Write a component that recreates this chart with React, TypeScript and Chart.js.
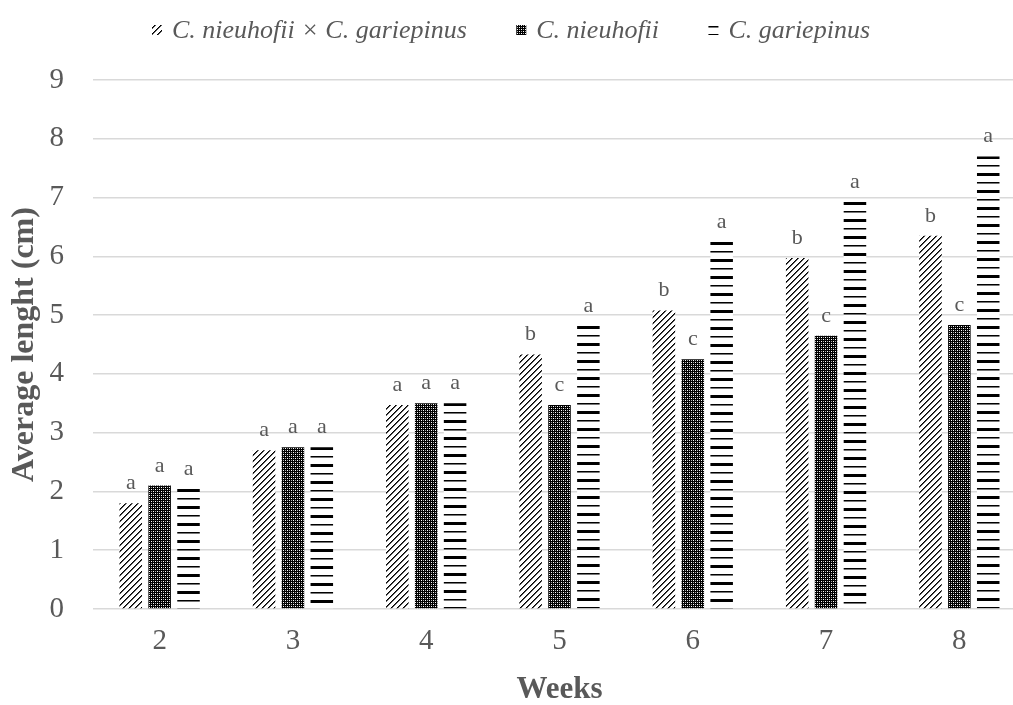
import React, { useEffect, useRef } from "react";
import { Chart, registerables } from "chart.js";

Chart.register(...registerables);

const weeks = ["2", "3", "4", "5", "6", "7", "8"];
const seriesNames = ["C. nieuhofii × C. gariepinus", "C. nieuhofii", "C. gariepinus"];
const hybridValues = [1.8, 2.7, 3.47, 4.33, 5.08, 5.97, 6.35];
const nieuhofiiValues = [2.1, 2.75, 3.5, 3.47, 4.25, 4.65, 4.83];
const gariepinusValues = [2.05, 2.75, 3.5, 4.82, 6.25, 6.93, 7.7];
const hybridLetters = ["a", "a", "a", "b", "b", "b", "b"];
const nieuhofiiLetters = ["a", "a", "a", "c", "c", "c", "c"];
const gariepinusLetters = ["a", "a", "a", "a", "a", "a", "a"];
const yMin = 0;
const yMax = 9;
const yStep = 1;

const TEXT = "#595959";
const SERIF = "'Liberation Serif', 'Times New Roman', serif";
const KINDS = ["diag", "check", "lines"];

function makePattern(kind: string): CanvasPattern {
  const c = document.createElement("canvas");
  const g = c.getContext("2d") as CanvasRenderingContext2D;
  if (kind === "diag") {
    c.width = 6;
    c.height = 6;
    g.fillStyle = "#fff";
    g.fillRect(0, 0, 6, 6);
    for (let i = 0; i < 6; i++) {
      g.fillStyle = "#000";
      g.fillRect(i, 5 - i, 1, 1);
      g.fillStyle = "#555";
      g.fillRect((i + 1) % 6, 5 - i, 1, 1);
    }
  } else if (kind === "check") {
    c.width = 4;
    c.height = 4;
    g.fillStyle = "#000";
    g.fillRect(0, 0, 4, 4);
    g.fillStyle = "#fff";
    g.fillRect(1, 1, 1, 1);
    g.fillRect(3, 3, 1, 1);
    g.fillStyle = "#aaa";
    g.fillRect(1, 3, 1, 1);
    g.fillRect(3, 1, 1, 1);
  } else {
    c.width = 4;
    c.height = 17;
    g.fillStyle = "#fff";
    g.fillRect(0, 0, 4, 17);
    g.fillStyle = "#000";
    g.fillRect(0, 0, 4, 3);
    g.fillRect(0, 9, 4, 1);
    g.fillStyle = "#777";
    g.fillRect(0, 10, 4, 1);
  }
  return g.createPattern(c, "repeat") as CanvasPattern;
}

function barFill(kindIndex: number) {
  const base = makePattern(KINDS[kindIndex]);
  return (ctx: any) => {
    const chart = ctx.chart;
    if (ctx.type !== "data" || !chart || !chart.scales || !chart.scales.y) return base;
    const v = ctx.parsed ? ctx.parsed.y : ctx.raw;
    if (typeof v !== "number") return base;
    const y = Math.round(chart.scales.y.getPixelForValue(v));
    const p = makePattern(KINDS[kindIndex]);
    if (p.setTransform) p.setTransform(new DOMMatrix([1, 0, 0, 1, 0, y]));
    return p;
  };
}

export default function App() {
  const ref = useRef<HTMLCanvasElement | null>(null);

  useEffect(() => {
    const canvas = ref.current;
    if (!canvas) return;
    const legendPatterns = KINDS.map((k) => makePattern(k));
    const letters = [hybridLetters, nieuhofiiLetters, gariepinusLetters];

    const labelPlugin = {
      id: "letters",
      afterDatasetsDraw(chart: any) {
        const ctx = chart.ctx;
        ctx.save();
        ctx.font = `22px ${SERIF}`;
        ctx.fillStyle = TEXT;
        ctx.textAlign = "center";
        ctx.textBaseline = "alphabetic";
        chart.data.datasets.forEach((_: any, i: number) => {
          const meta = chart.getDatasetMeta(i);
          meta.data.forEach((el: any, j: number) => {
            ctx.fillText(letters[i][j], el.x, el.y - 14);
          });
        });
        ctx.restore();
      },
    };

    const legendPlugin = {
      id: "customLegend",
      afterDraw(chart: any) {
        const ctx = chart.ctx;
        ctx.save();
        ctx.font = `italic 26px ${SERIF}`;
        ctx.textBaseline = "middle";
        ctx.textAlign = "left";
        const box = 10;
        const gapBox = 10;
        const startX = 152;
        const endX = 870;
        const widths = seriesNames.map((n) => ctx.measureText(n).width);
        const used = widths.reduce((s, w) => s + box + gapBox + w, 0);
        const gapItem = (endX - startX - used) / (seriesNames.length - 1);
        let x = startX;
        const y = 30;
        seriesNames.forEach((n, i) => {
          ctx.fillStyle = legendPatterns[i];
          ctx.fillRect(x, y - box / 2, box, box);
          ctx.fillStyle = TEXT;
          ctx.fillText(n, x + box + gapBox, y + 1);
          x += box + gapBox + widths[i] + gapItem;
        });
        ctx.restore();
      },
    };

    const chart = new Chart(canvas, {
      type: "bar",
      data: {
        labels: weeks,
        datasets: [
          { label: seriesNames[0], data: hybridValues, backgroundColor: barFill(0), borderWidth: 0 },
          { label: seriesNames[1], data: nieuhofiiValues, backgroundColor: barFill(1), borderWidth: 0 },
          { label: seriesNames[2], data: gariepinusValues, backgroundColor: barFill(2), borderWidth: 0 },
        ],
      },
      options: {
        responsive: false,
        animation: false,
        events: [],
        layout: { padding: { top: 80, right: 14, left: 0, bottom: 0 } },
        datasets: { bar: { categoryPercentage: 0.65, barPercentage: 0.78 } },
        plugins: {
          legend: { display: false },
          tooltip: { enabled: false },
        },
        scales: {
          x: {
            grid: { display: false, drawTicks: false },
            border: { display: false },
            ticks: { color: TEXT, font: { family: SERIF, size: 29 }, padding: 15 },
            title: {
              display: true,
              text: "Weeks",
              color: TEXT,
              font: { family: SERIF, size: 31, weight: "bold", lineHeight: 1 },
              padding: { top: 0, bottom: 0 },
            },
            afterFit(scale: any) {
              scale.height = 96;
            },
          },
          y: {
            min: yMin,
            max: yMax,
            grid: { color: "#d9d9d9", lineWidth: 1.5, drawTicks: false },
            border: { display: false },
            ticks: { stepSize: yStep, color: TEXT, font: { family: SERIF, size: 29 }, padding: 29 },
            title: {
              display: true,
              text: "Average lenght (cm)",
              color: TEXT,
              font: { family: SERIF, size: 32, weight: "bold", lineHeight: 1 },
              padding: { top: 9, bottom: 0 },
            },
            afterFit(scale: any) {
              scale.width = 93;
            },
          },
        },
      },
      plugins: [labelPlugin, legendPlugin],
    });
    return () => chart.destroy();
  }, []);

  return (
    <div style={{ position: "fixed", left: 0, top: 0, width: 1013, height: 705, overflow: "hidden", background: "#fff" }}>
      <canvas ref={ref} width={1040} height={705} style={{ display: "block" }} />
    </div>
  );
}
